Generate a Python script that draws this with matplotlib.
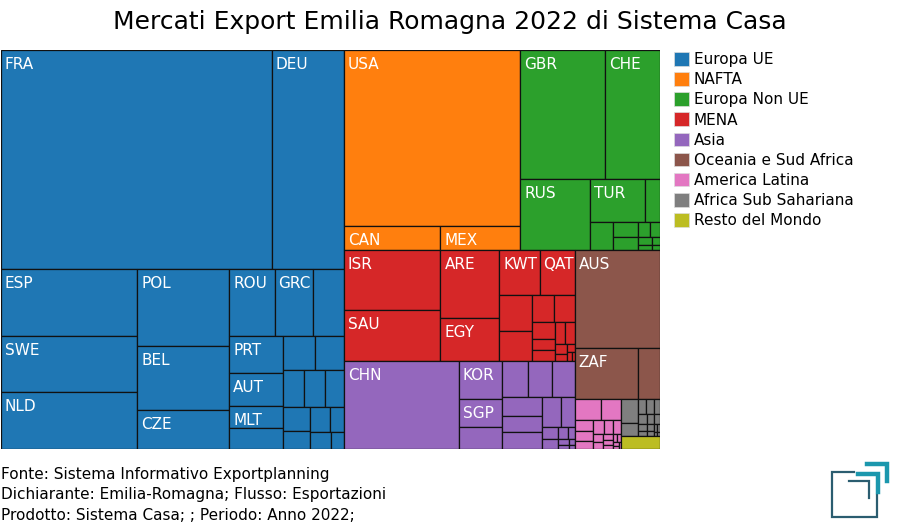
import matplotlib
matplotlib.use("Agg")
import matplotlib.pyplot as plt
from matplotlib.patches import Rectangle, Patch

# Aree geografiche (ordine della legenda) e colori
gruppi = ["Europa UE", "NAFTA", "Europa Non UE", "MENA", "Asia",
          "Oceania e Sud Africa", "America Latina", "Africa Sub Sahariana",
          "Resto del Mondo"]
colori = ["#1f77b4", "#ff7f0e", "#2ca02c", "#d62728", "#9467bd",
          "#8c564b", "#e377c2", "#7f7f7f", "#bcbd22"]

# Paesi e valori (stime, unita' relative)
paesi_ue = ["FRA", "DEU", "ESP", "SWE", "NLD", "POL", "BEL", "CZE", "ROU", "GRC",
            "DNK", "PRT", "AUT", "MLT", "IRL", "HUN", "SVK", "SVN", "HRV", "BGR",
            "LUX", "CYP", "LTU", "FIN", "LVA", "EST"]
valori_ue = [59078, 15696, 9166, 7710, 7700, 7074, 5877, 3565, 3055, 2613,
             2057, 2003, 1756, 1190, 1140, 1074, 976, 780, 775, 697,
             649, 490, 490, 352, 347, 226]

paesi_nafta = ["USA", "CAN", "MEX"]
valori_nafta = [30976, 2304, 1920]

paesi_non_ue = ["GBR", "CHE", "RUS", "TUR", "NOR", "UKR", "SRB", "ALB", "BIH",
                "MKD", "MNE", "MDA", "BLR", "ISL"]
valori_non_ue = [10850, 7080, 4980, 2332, 666, 632, 390, 330, 175, 150, 115, 75, 60, 40]

paesi_mena = ["ISR", "SAU", "ARE", "EGY", "KWT", "QAT", "LBN", "MAR", "OMN", "JOR",
              "TUN", "BHR", "DZA", "IRQ", "LBY", "IRN", "SYR", "YEM", "PSE", "MRT"]
valori_mena = [5760, 4896, 3982, 2489, 1816, 1582, 1200, 979, 588, 538,
               389, 249, 238, 238, 213, 127, 87, 60, 40, 25]

paesi_asia = ["CHN", "KOR", "SGP", "JPN", "IND", "HKG", "TWN", "VNM", "THA", "MYS",
              "PHL", "IDN", "KAZ", "UZB", "PAK", "LKA", "BGD", "GEO", "AZE", "ARM"]
valori_asia = [10120, 1635, 1170, 952, 928, 878, 810, 771, 678, 674,
               561, 420, 190, 160, 120, 90, 65, 50, 35, 20]

paesi_oceania = ["AUS", "ZAF", "NZL"]
valori_oceania = [8356, 3178, 1131]

paesi_latam = ["BRA", "CHL", "ARG", "COL", "PER", "URY", "DOM", "PAN", "CRI", "ECU",
               "GTM", "PRY", "VEN", "BOL", "SLV", "HND", "NIC", "CUB"]
valori_latam = [554, 426, 200, 175, 150, 140, 126, 102, 85, 70,
                60, 50, 40, 35, 30, 25, 20, 12]

paesi_africa = ["NGA", "KEN", "SEN", "GHA", "CIV", "AGO", "ETH", "TZA", "CMR", "MUS",
                "MOZ", "UGA", "ZMB", "NAM", "BWA", "ZWE"]
valori_africa = [411, 233, 115, 110, 95, 85, 75, 65, 55, 45, 40, 35, 30, 20, 15, 10]

paesi_resto = ["ALT"]
valori_resto = [507]

paesi_gruppi = [paesi_ue, paesi_nafta, paesi_non_ue, paesi_mena, paesi_asia,
                paesi_oceania, paesi_latam, paesi_africa, paesi_resto]
valori_gruppi = [valori_ue, valori_nafta, valori_non_ue, valori_mena, valori_asia,
                 valori_oceania, valori_latam, valori_africa, valori_resto]

SOGLIA_ETICHETTA = 1150
PHI = (1 + 5 ** 0.5) / 2


# squarify "alla d3" con rapporto aureo
def squarify(valori, x0, y0, x1, y1, ratio=PHI):
    rett = []
    valore = float(sum(valori))
    i0, n = 0, len(valori)
    while i0 < n:
        dx, dy = x1 - x0, y1 - y0
        i1 = i0 + 1
        somma = vmin = vmax = float(valori[i0])
        alpha = max(dy / dx, dx / dy) / (valore * ratio)
        beta = somma * somma * alpha
        minr = max(vmax / beta, beta / vmin)
        while i1 < n:
            v = valori[i1]
            s2 = somma + v
            mn, mx = min(vmin, v), max(vmax, v)
            beta = s2 * s2 * alpha
            nr = max(mx / beta, beta / mn)
            if nr > minr:
                break
            somma, vmin, vmax, minr = s2, mn, mx, nr
            i1 += 1
        riga = valori[i0:i1]
        if dx < dy:
            # riga orizzontale in alto
            h = dy * somma / valore
            x = x0
            for v in riga:
                w = dx * v / somma
                rett.append((x, y0, w, h))
                x += w
            y0 += h
        else:
            # colonna a sinistra
            w = dx * somma / valore
            y = y0
            for v in riga:
                hh = dy * v / somma
                rett.append((x0, y, w, hh))
                y += hh
            x0 += w
        valore -= somma
        i0 = i1
    return rett


fig = plt.figure(figsize=(9, 5.3), dpi=100)
W, H = 659, 399
ax = fig.add_axes([1 / 900, 81 / 530, W / 900, H / 530])
ax.set_xlim(0, W)
ax.set_ylim(H, 0)
ax.axis("off")

totali = [sum(v) for v in valori_gruppi]
rett_gruppi = squarify(totali, 0, 0, W, H)

for (gx, gy, gw, gh), paesi, valori, col in zip(rett_gruppi, paesi_gruppi, valori_gruppi, colori):
    ordine = sorted(range(len(valori)), key=lambda k: -valori[k])
    vals = [valori[k] for k in ordine]
    nomi = [paesi[k] for k in ordine]
    for (x, y, w, h), nome, v in zip(squarify(vals, gx, gy, gx + gw, gy + gh), nomi, vals):
        ax.add_patch(Rectangle((x, y), w, h, facecolor=col, edgecolor="#111111", linewidth=0.9))
        if v >= SOGLIA_ETICHETTA and w >= 34:
            ax.text(x + 4, y + 7, nome, color="white", fontsize=11, ha="left", va="top")

fig.text(0.5, 1 - 22 / 530, "Mercati Export Emilia Romagna 2022 di Sistema Casa",
         ha="center", va="center", fontsize=18)

maniglie = [Patch(facecolor=c, edgecolor="#dddddd", linewidth=0.5) for c in colori]
fig.legend(maniglie, gruppi, loc="upper left", bbox_to_anchor=(668 / 900, 1 - 46 / 530),
           frameon=False, fontsize=11, handlelength=1.0, handleheight=1.0,
           handletextpad=0.3, labelspacing=0.33, borderaxespad=0)

righe = ["Fonte: Sistema Informativo Exportplanning",
         "Dichiarante: Emilia-Romagna; Flusso: Esportazioni",
         "Prodotto: Sistema Casa; ; Periodo: Anno 2022;"]
for k, r in enumerate(righe):
    fig.text(1 / 900, 1 - (474 + 20.5 * k) / 530, r, ha="left", va="center", fontsize=11)

# logo
lg = fig.add_axes([820 / 900, 0, 80 / 900, 80 / 530])
lg.set_xlim(820, 900)
lg.set_ylim(530, 450)
lg.axis("off")
scuro = "#2b5d70"
teal = "#1b97ad"
lg.plot([854, 832, 832, 877, 877], [472, 472, 517, 517, 495], color=scuro, lw=1.6, solid_joinstyle="miter")
lg.plot([849, 869, 869], [481, 481, 498], color=scuro, lw=1.6, solid_joinstyle="miter")
lg.plot([858, 877.5, 877.5], [473.5, 473.5, 492], color=teal, lw=3.2, solid_joinstyle="miter")
lg.plot([867, 886.5, 886.5], [463.5, 463.5, 481], color=teal, lw=3.2, solid_joinstyle="miter")

fig.savefig("out.png", dpi=100)
